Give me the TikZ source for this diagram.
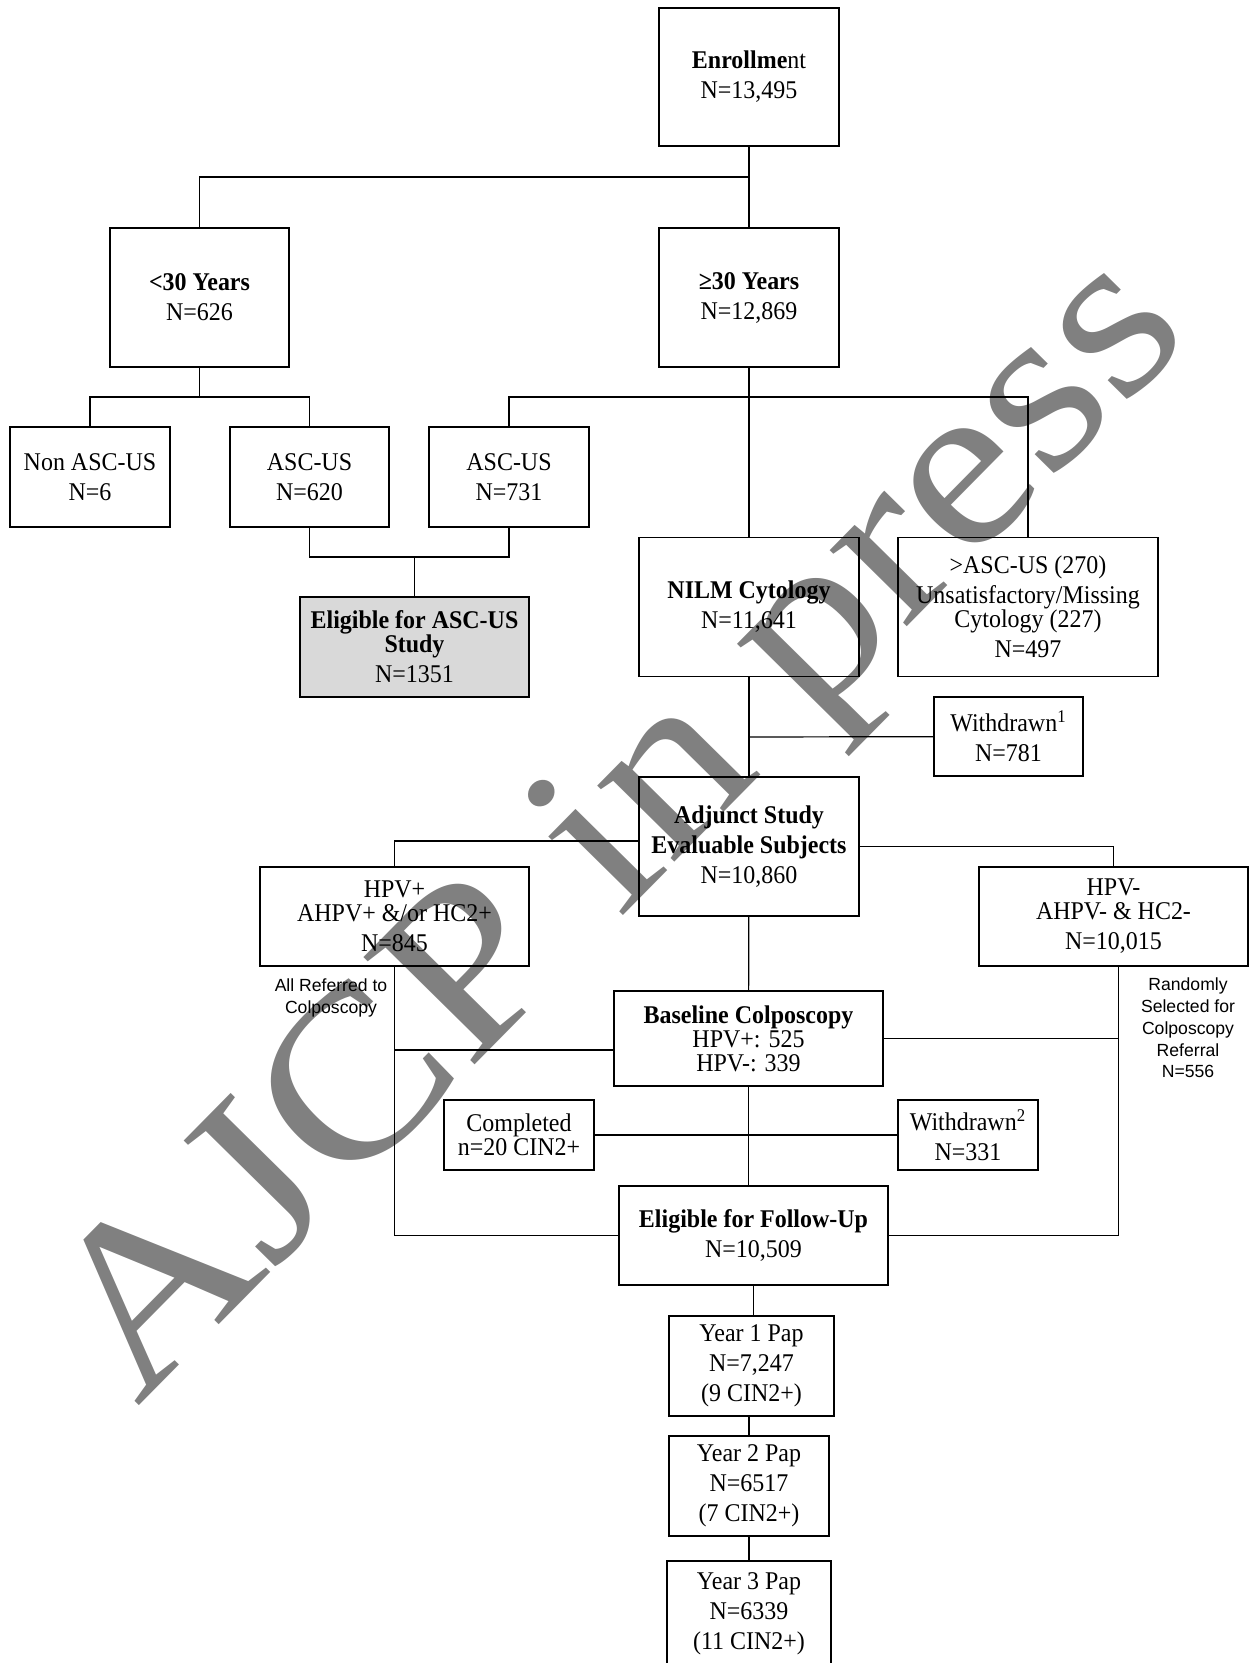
\documentclass[tikz,border=0pt]{standalone}
\usepackage{fontspec}
\setmainfont[FakeStretch=0.94]{Liberation Serif}
\setsansfont{Liberation Sans}
\newfontfamily\stampfont[FakeStretch=1.125]{Liberation Serif}

\begin{document}
\begin{tikzpicture}[x=0.5pt, y=-0.5pt, line width=0.6pt,
    stage/.style 2 args = {draw, align=center, inner sep=0pt, minimum width=#1, minimum height=#2, font=\fontsize{12.75}{12}\selectfont},
    greyfill/.style = {fill=black!15},
    note/.style = {align=center, inner sep=0pt, font=\sffamily\fontsize{8.8}{10.9}\selectfont},
    stamp/.style = {text=gray, anchor=base west, rotate=45.4, inner sep=0pt, font=\stampfont\fontsize{118}{118}\selectfont}]
        \useasboundingbox (0,0) rectangle (1250,1663);
        \clip (0,0) rectangle (1250,1663);

        \node[stamp] (watermark) at (137,1408) {AJCP in press};

        \node[stage={90pt}{69pt}] (enrollment) at (749,77) {\textbf{Enrollme}nt\\[3pt]N=13,495};
        \node[stage={89.5pt}{69.5pt}] (under-thirty) at (199.5,297.5) {\textbf{<30 Years}\\[3pt]N=626};
        \node[stage={90pt}{69.5pt}] (over-thirty) at (749,297.5) {\textbf{≥30 Years}\\[3pt]N=12,869};
        \node[stage={80pt}{50pt}] (non-ascus) at (90,477) {Non ASC-US\\[3pt]N=6};
        \node[stage={79.5pt}{50pt}] (ascus-young) at (309.5,477) {ASC-US\\[3pt]N=620};
        \node[stage={80pt}{50pt}] (ascus-old) at (509,477) {ASC-US\\[3pt]N=731};
        \node[stage={114.5pt}{50pt}, greyfill] (eligible-ascus) at (414.5,647) {\textbf{Eligible for ASC-US}\\\textbf{Study}\\[3pt]N=1351};
        \node[stage={110pt}{69.5pt}] (nilm) at (749,607) {\textbf{NILM Cytology}\\[3pt]N=11,641};
        \node[stage={130pt}{69.5pt}] (over-ascus) at (1028,607) {>ASC-US (270)\\[3pt]Unsatisfactory/Missing\\Cytology (227)\\[3pt]N=497};
        \node[stage={74.5pt}{39.5pt}] (withdrawn-one) at (1008.5,736.5) {Withdrawn\textsuperscript{1}\\[3pt]N=781};
        \node[stage={110pt}{69.5pt}] (adjunct) at (749,846.5) {\textbf{Adjunct Study}\\[3pt]\textbf{Evaluable Subjects}\\[3pt]N=10,860};
        \node[stage={134.5pt}{49.5pt}] (hpv-pos) at (394.5,916.5) {HPV+\\AHPV+ \&/or HC2+\\[3pt]N=845};
        \node[stage={134.5pt}{49.5pt}] (hpv-neg) at (1113.5,916.5) {HPV-\\AHPV- \& HC2-\\[3pt]N=10,015};
        \node[note] (referred) at (331,998) {All Referred to\\Colposcopy};
        \node[note] (random) at (1188,1028) {Randomly\\Selected for\\Colposcopy\\Referral\\N=556};
        \node[stage={134.5pt}{47.5pt}] (baseline) at (748.5,1038.5) {\textbf{Baseline Colposcopy}\\HPV+: 525\\HPV-: 339};
        \node[stage={75pt}{35pt}] (completed) at (519,1135) {Completed\\n=20 CIN2+};
        \node[stage={70pt}{35pt}] (withdrawn-two) at (968,1135) {Withdrawn\textsuperscript{2}\\[3pt]N=331};
        \node[stage={134.5pt}{49.5pt}] (eligible-fu) at (753.5,1235.5) {\textbf{Eligible for Follow-Up}\\[3pt]N=10,509};
        \node[stage={82.5pt}{50pt}] (year-one) at (751.5,1366) {Year 1 Pap\\[3pt]N=7,247\\[3pt](9 CIN2+)};
        \node[stage={80pt}{50pt}] (year-two) at (749,1486) {Year 2 Pap\\[3pt]N=6517\\[3pt](7 CIN2+)};
        \node[stage={82pt}{52.5pt}] (year-three) at (749,1613.5) {Year 3 Pap\\[3pt]N=6339\\[3pt](11 CIN2+)};

        \coordinate (split-age) at (749,177);
        \coordinate (split-young) at (199.5,397);
        \coordinate (split-old) at (749,397);
        \coordinate (join-ascus) at (414.5,557);
        \coordinate (exit-one) at (749,737);
        \coordinate (split-pos) at (394.5,1050);
        \coordinate (split-neg) at (1118.5,1038.5);

        \draw (enrollment) -- (over-thirty);
        \draw (split-age) -| (under-thirty);
        \draw (under-thirty) -- (split-young);
        \draw (split-young) -| (non-ascus);
        \draw (split-young) -| (ascus-young);

        \draw (over-thirty) -- (nilm);
        \draw (split-old) -| (ascus-old);
        \draw (split-old) -| (over-ascus);
        \draw (ascus-young) |- (join-ascus);
        \draw (ascus-old) |- (join-ascus);
        \draw (join-ascus) -- (eligible-ascus);

        \draw (nilm) -- (adjunct);
        \draw (exit-one) -- (withdrawn-one);
        \draw ([yshift=2.75pt]adjunct.west) -| (hpv-pos);
        \draw (adjunct) -| (hpv-neg);
        \draw (adjunct) -- (baseline);

        \draw (hpv-pos) |- (eligible-fu);
        \draw (split-pos) -- ([yshift=-5.75pt]baseline.west);
        \draw ([xshift=2.5pt]hpv-neg.south) |- (eligible-fu);
        \draw (baseline) -- (split-neg);
        \draw (baseline.south) -- (baseline.south |- eligible-fu.north);
        \draw (completed) -- (withdrawn-two);

        \draw (eligible-fu) -- (eligible-fu |- year-one.north);
        \draw (year-one.south -| year-two) -- (year-two);
        \draw (year-two) -- (year-three);
    \end{tikzpicture}
\end{document}
